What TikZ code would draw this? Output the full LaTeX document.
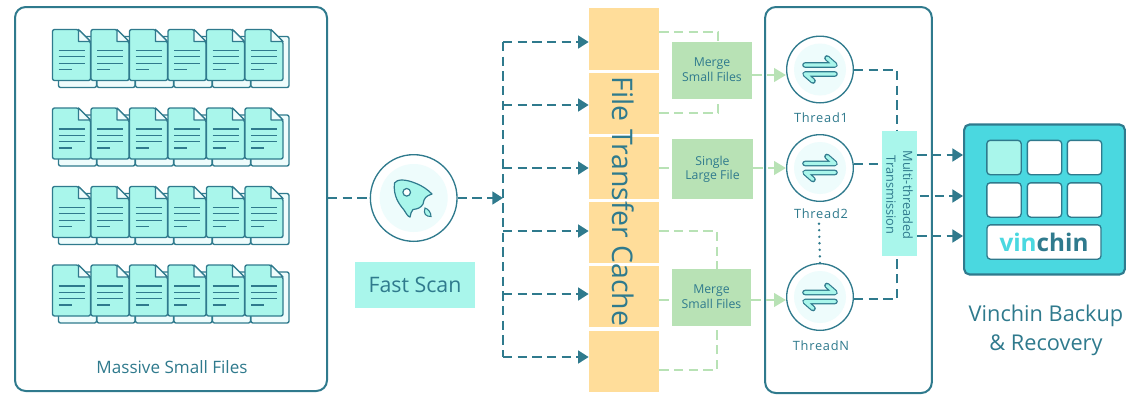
\documentclass[tikz,border=0pt]{standalone}
\usepackage{fontspec}
\setmainfont{Open Sans}
\newfontfamily\threadfont[LetterSpace=6]{Open Sans}
\usetikzlibrary{arrows.meta}
\definecolor{tealline}{HTML}{2F7A8D}
\definecolor{aqua}{HTML}{A9F6EB}
\definecolor{palecyan}{HTML}{EEFCFC}
\definecolor{cachefill}{HTML}{FFDD9A}
\definecolor{mergefill}{HTML}{B8E2B5}
\definecolor{brandfill}{HTML}{4AD8E0}
\tikzset{
  panel/.style={draw=tealline, line width=1.5pt, rounded corners=8pt, fill=white},
  cacheblock/.style={fill=cachefill, inner sep=0pt},
  mergebox/.style={fill=mergefill, inner sep=0pt, align=center, text=tealline, font=\fontsize{9.2}{13}\selectfont},
  flow/.style={draw=tealline, line width=2.2pt, dash pattern=on 7pt off 4pt},
  flowto/.style={flow, -{Triangle[length=8pt,width=9.5pt]}},
  mergeflow/.style={draw=mergefill, line width=2.2pt, dash pattern=on 7pt off 4pt},
  mergeto/.style={mergeflow, -{Triangle[length=9pt,width=10pt]}},
  ringnode/.style={circle, draw=tealline, line width=1pt, fill=white, minimum size=50pt, inner sep=0pt},
  tile/.style={draw=tealline, line width=1pt, rounded corners=2.5pt, fill=white, inner sep=0pt},
  caption/.style={text=tealline, inner sep=0pt},
  docicon/.pic={
    \draw[tealline, line width=1pt, fill=palecyan, rounded corners=1.5pt] (6,7) rectangle (44,58);
    \draw[tealline, line width=1pt, fill=aqua, rounded corners=1.5pt]
      (0,0) -- (26,0) -- (38,12) -- (38,51) -- (0,51) -- cycle;
    \draw[tealline, line width=1pt, fill=palecyan, line join=round] (26,0) -- (26,12) -- (38,12) -- cycle;
    \draw[tealline, line width=0.8pt] (6,21) -- (32,21) (6,27.3) -- (32,27.3) (6,33.6) -- (32,33.6) (6,40) -- (19,40);
  },
  swapicon/.pic={
    \fill[palecyan] (0,0) circle (26);
    \foreach \wd/\col in {4.2pt/tealline, 2.4pt/aqua}{
      \draw[\col, line width=\wd, line cap=round, line join=round] (-15,-4.5) -- (15,-4.5) -- (7,-11.5);
      \draw[\col, line width=\wd, line cap=round, line join=round] (15,4.5) -- (-15,4.5) -- (-7,11.5);
    }
  }
}
\begin{document}
\begin{tikzpicture}[x=0.75pt, y=-0.75pt]
  \useasboundingbox (0,0) rectangle (1147,404);

  \node[panel, minimum width=234pt, minimum height=288pt] (files) at (171,199) {};
  \node[panel, minimum width=125pt, minimum height=289.5pt] (threads) at (848.5,200) {};

  \foreach \row in {29.5,108,186.5,265}
    \foreach \col in {0,...,5}
      \pic at ({52.5+38.5*\col},\row) {docicon};
  \node[caption, font=\fontsize{12.8}{15}\selectfont] (filestext) at (172,367) {Massive Small Files};

  % scan
  \node[ringnode, minimum size=65pt] (scan) at (413.7,198) {};
  \fill[palecyan] (scan.center) circle (34);
  \draw[tealline, line width=0.9pt, fill=aqua, line join=round]
    (394.5,183) .. controls (397,179) and (405,179) .. (415,183)
    .. controls (423,186) and (428,190) .. (432,194)
    .. controls (426,196) and (424,198) .. (423,204)
    .. controls (421,208) and (417,209) .. (413,209.5)
    .. controls (411,211) and (411,214) .. (410,217)
    .. controls (408,217) and (406,213) .. (404,210)
    .. controls (399,204) and (393,196) .. (394.5,183) -- cycle;
  \draw[tealline, line width=0.9pt, fill=white] (406.7,192.3) circle (3.8);
  \draw[tealline, line width=0.8pt, fill=aqua] (431,216.5) .. controls (426,216.5) and (423,214) .. (425,208)
    .. controls (428,209) and (431,212) .. (431,216.5) -- cycle;
  \node[fill=aqua, minimum width=90pt, minimum height=34.5pt, inner sep=0pt, text=tealline,
        font=\fontsize{16}{20}\selectfont] (scanlabel) at (415,285) {Fast Scan};

  % cache blocks
  \node[cacheblock, minimum width=52.5pt, minimum height=46.5pt] (cache1) at (624,39) {};
  \node[cacheblock, minimum width=52.5pt, minimum height=45.75pt] (cache2) at (624,103.5) {};
  \node[cacheblock, minimum width=52.5pt, minimum height=46.5pt] (cache3) at (624,168) {};
  \node[cacheblock, minimum width=52.5pt, minimum height=45.75pt] (cache4) at (624,232.5) {};
  \node[cacheblock, minimum width=52.5pt, minimum height=45.75pt] (cache5) at (624,296.5) {};
  \node[cacheblock, minimum width=52.5pt, minimum height=45.75pt] (cache6) at (624,361.5) {};
  \node[caption, rotate=-90, font=\fontsize{21.3}{26}\selectfont] (cachetext) at (623,201.5) {File Transfer Cache};

  % bus
  \coordinate (bus) at (503,198);
  \coordinate (bus1) at (503,42);
  \coordinate (bus2) at (503,105);
  \coordinate (bus3) at (503,168);
  \coordinate (bus4) at (503,231);
  \coordinate (bus5) at (503,294);
  \coordinate (bus6) at (503,357);
  \draw[flow] (files.east |- scan) -- (scan.west);
  \draw[flowto] (scan.east) -- (bus);
  \draw[flow] (bus1) -- (bus6);
  \draw[flowto] (bus1) -- (bus1 -| cache1.west);
  \draw[flowto] (bus2) -- (bus2 -| cache2.west);
  \draw[flowto] (bus3) -- (bus3 -| cache3.west);
  \draw[flowto] (bus4) -- (bus4 -| cache4.west);
  \draw[flowto] (bus5) -- (bus5 -| cache5.west);
  \draw[flowto] (bus6) -- (bus6 -| cache6.west);

  % merge and threads
  \node[ringnode] (thread1) at (820,69.5) {};
  \node[ringnode] (thread2) at (820,168) {};
  \node[ringnode] (threadn) at (820,297) {};
  \pic at (thread1.center) {swapicon};
  \pic at (thread2.center) {swapicon};
  \pic at (threadn.center) {swapicon};
  \node[caption, font=\threadfont\fontsize{9.6}{12}\selectfont] (t1text) at (821,117.5) {Thread1};
  \node[caption, font=\threadfont\fontsize{9.6}{12}\selectfont] (t2text) at (821,213.5) {Thread2};
  \node[caption, font=\threadfont\fontsize{9.6}{12}\selectfont] (tntext) at (821,345.5) {ThreadN};
  \draw[tealline, line width=2pt, line cap=round, dash pattern=on 0pt off 4.9pt] (t2text.south) ++(-2,5) -- (threadn.north);

  \coordinate (m1a) at (718,32);
  \coordinate (m1b) at (718,113);
  \coordinate (m3a) at (717,231);
  \coordinate (m3b) at (717,370);
  \draw[mergeflow] (cache1.east |- m1a) -- (m1a) -- (718,42);
  \draw[mergeflow] (cache2.east |- m1b) -- (m1b) -- (718,99);
  \draw[mergeflow] (cache3.east) -- (672,168);
  \draw[mergeflow] (cache4.east |- m3a) -- (m3a) -- (717,269);
  \draw[mergeflow] (cache5.east |- 0,300) -- (672,300);
  \draw[mergeflow] (cache6.east |- m3b) -- (m3b) -- (717,326);

  \node[mergebox, minimum width=60pt, minimum height=43pt] (merge1) at (712,70.5) {\strut Merge\\[-2pt]\strut Small Files};
  \node[mergebox, minimum width=60.75pt, minimum height=45pt] (single) at (712.5,169) {\strut Single\\[-2pt]\strut Large File};
  \node[mergebox, minimum width=59.25pt, minimum height=43pt] (merge2) at (711.5,297.5) {\strut Merge\\[-2pt]\strut Small Files};
  \draw[mergeto] (merge1.east |- 0,75) -- (thread1.west |- 0,75);
  \draw[mergeto] (single.east |- thread2) -- (thread2.west);
  \draw[mergeto] (merge2.east |- 0,300) -- (threadn.west |- 0,300);

  % multi-threaded
  \node[fill=aqua, minimum width=26.25pt, minimum height=94pt, inner sep=0pt] (multi) at (899.5,193.5) {};
  \node[caption, rotate=-90, align=center, font=\fontsize{9.6}{12.5}\selectfont] (multitext) at (899.5,195) {Multi-threaded\\Transmission};
  \draw[flow] (thread1.east |- 0,70) -- (897,70) -- (897,131);
  \draw[flow] (thread2.east |- 0,164) -- (multi.west |- 0,164);
  \draw[flow] (threadn.east |- 0,299) -- (897,299) -- (897,256);

  % store
  \node[draw=tealline, line width=1.6pt, rounded corners=4pt, fill=brandfill, minimum width=120.5pt, minimum height=112.5pt, inner sep=0pt] (store) at (1044.5,199.5) {};
  \node[tile, fill=aqua, minimum size=25.75pt] (tile1) at (1004,157.5) {};
  \node[tile, minimum size=25.75pt] (tile2) at (1044.5,157.5) {};
  \node[tile, minimum size=25.75pt] (tile3) at (1084.5,157.5) {};
  \node[tile, minimum size=25.75pt] (tile4) at (1004,200) {};
  \node[tile, minimum size=25.75pt] (tile5) at (1044.5,200) {};
  \node[tile, minimum size=25.75pt] (tile6) at (1084.5,200) {};
  \node[tile, minimum width=85.5pt, minimum height=25.75pt, font=\fontsize{18.2}{22}\bfseries\selectfont] (brand) at (1044,242)
    {\textcolor{brandfill}{vin}\textcolor{tealline}{chin}};
  \coordinate (out2) at (920,196);
  \draw[flowto] (multi.east |- 0,155) -- (store.west |- 0,155);
  \draw[flowto] (out2) -- (store.west |- out2);
  \draw[flowto] (multi.east |- 0,236) -- (store.west |- 0,236);
  \node[caption, align=center, font=\fontsize{16.3}{21.8}\selectfont] (storetext) at (1046,330) {Vinchin Backup\\\& Recovery};
\end{tikzpicture}
\end{document}
